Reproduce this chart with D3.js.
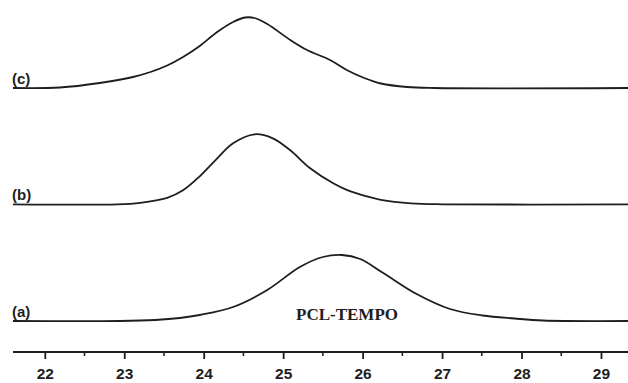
<!DOCTYPE html>
<html><head><meta charset="utf-8">
<script src="https://cdn.jsdelivr.net/npm/d3@7"></script>
<style>body{margin:0;background:#fff}svg{display:block}</style>
</head><body>
<script>
// 2θ (degrees) and intensity (a.u.) for each sample
const seriesC_x = [21.6, 22.19, 22.69, 23.11, 23.33, 23.54, 23.74, 23.95, 24.17, 24.37, 24.52, 24.64, 24.80, 25.09, 25.30, 25.59, 25.80, 26.02, 26.23, 26.56, 26.90, 29.34];
const seriesC_y = [0, 0.5, 5, 11, 16, 22.5, 31, 42, 56, 66, 70.5, 70, 64, 48, 38, 28, 18, 10, 4.5, 1, 0, 0];
const seriesB_x = [21.6, 22.91, 23.20, 23.54, 23.74, 23.95, 24.17, 24.37, 24.64, 24.87, 25.09, 25.34, 25.63, 25.80, 26.05, 26.23, 26.61, 27.0, 29.34];
const seriesB_y = [0, 0, 1.5, 6.5, 14, 28, 46, 61, 70, 66, 54, 36, 21, 14.5, 8, 4.5, 1, 0, 0];
const seriesA_x = [21.6, 22.94, 23.39, 23.70, 23.95, 24.37, 24.80, 25.21, 25.50, 25.74, 25.97, 26.26, 26.68, 27.10, 27.51, 27.91, 28.27, 29.34];
const seriesA_y = [0, 0, 1, 3, 6, 14, 31, 54, 64, 66, 62, 48, 27, 12, 5.5, 2.5, 0.5, 0];
const seriesLabels = ["(c)", "(b)", "(a)"];
const sampleName = "PCL-TEMPO";
const tickValues = [22, 23, 24, 25, 26, 27, 28, 29];

const W = 628, H = 383;
const svg = d3.select("body").append("svg").attr("width", W).attr("height", H);

const x = d3.scaleLinear().domain([21.6, 29.34]).range([13, 628]);
const y = d3.scaleLinear().domain([0, 100]).range([0, -100]);

const panels = [
  {xs: seriesC_x, ys: seriesC_y, base: 88, label: seriesLabels[0]},
  {xs: seriesB_x, ys: seriesB_y, base: 204.3, label: seriesLabels[1]},
  {xs: seriesA_x, ys: seriesA_y, base: 321, label: seriesLabels[2]}
];

const line = d3.line().x(d => x(d[0])).y(d => y(d[1])).curve(d3.curveCatmullRom.alpha(0.5));

panels.forEach(p => {
  const g = svg.append("g").attr("transform", `translate(0,${p.base})`);
  g.append("path")
    .datum(p.xs.map((v, i) => [v, p.ys[i]]))
    .attr("d", line)
    .attr("fill", "none")
    .attr("stroke", "#1e1e1e")
    .attr("stroke-width", 1.8);
  g.append("text")
    .attr("x", 12).attr("y", -4)
    .attr("font-family", "Liberation Sans, Arial, sans-serif")
    .attr("font-weight", "bold")
    .attr("font-size", 15)
    .attr("fill", "#1e1e1e")
    .text(p.label);
});

svg.append("text")
  .attr("x", 347).attr("y", 320)
  .attr("text-anchor", "middle")
  .attr("font-family", "Liberation Serif, Times New Roman, serif")
  .attr("font-weight", "bold")
  .attr("font-size", 17)
  .attr("fill", "#1e1e1e")
  .text(sampleName);

// x axis
const axisY = 352;
const axisG = svg.append("g").attr("transform", `translate(0,${axisY})`);
axisG.append("line").attr("x1", 13).attr("x2", 628).attr("y1", 0).attr("y2", 0)
  .attr("stroke", "#1e1e1e").attr("stroke-width", 2.2);
const minor = d3.range(21.5, 29.6, 1).filter(v => v >= 21.6 && v <= 29.34);
axisG.selectAll("line.minor").data(minor).enter().append("line")
  .attr("class", "minor")
  .attr("x1", d => x(d)).attr("x2", d => x(d)).attr("y1", 0).attr("y2", 4)
  .attr("stroke", "#1e1e1e").attr("stroke-width", 1.5);
const xAxis = d3.axisBottom(x).tickValues(tickValues).tickSize(7).tickPadding(9).tickFormat(d3.format("d"));
const ag = axisG.append("g").call(xAxis);
ag.select(".domain").remove();
ag.selectAll(".tick line").attr("stroke", "#1e1e1e").attr("stroke-width", 1.8);
ag.selectAll(".tick text")
  .attr("font-family", "Liberation Sans, Arial, sans-serif")
  .attr("font-weight", "bold")
  .attr("font-size", 15.5)
  .attr("fill", "#1e1e1e");
</script>
</body></html>
